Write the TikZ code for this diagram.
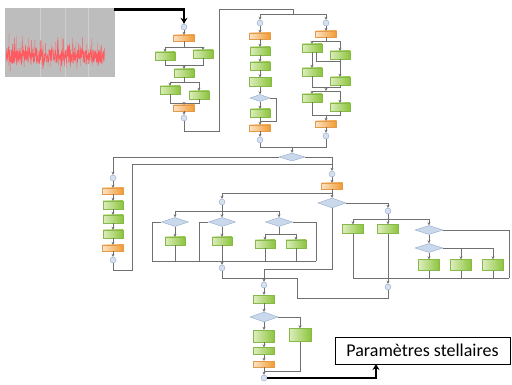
\documentclass[tikz,border=0pt]{standalone}
\usepackage{fontspec}
\setmainfont{Carlito}
\usetikzlibrary{shapes.geometric,arrows.meta,calc}
\definecolor{gl}{HTML}{DDEDBE}
\definecolor{gr}{HTML}{8CC43C}
\definecolor{gbd}{HTML}{86B84A}
\definecolor{ol}{HTML}{FBE3C6}
\definecolor{orr}{HTML}{F29A2E}
\definecolor{obd}{HTML}{E39A4A}
\definecolor{dfill}{HTML}{CAD8EC}
\definecolor{dbd}{HTML}{93A9CC}
\definecolor{cfill}{HTML}{D6E0EE}
\definecolor{lc}{HTML}{707070}
\definecolor{imgbg}{HTML}{BDBDBD}
\definecolor{sig}{HTML}{FF5A5F}
\begin{document}
\begin{tikzpicture}[x=1pt,y=-1pt,
  gbox/.style={rectangle, draw=gbd, line width=0.3pt, left color=gl, right color=gr, minimum width=20, minimum height=8, inner sep=0},
  obox/.style={rectangle, draw=obd, line width=0.3pt, left color=ol, right color=orr, minimum width=21, minimum height=6, inner sep=0},
  dia/.style={diamond, draw=dbd, line width=0.4pt, fill=dfill, minimum width=27, minimum height=9, inner sep=0},
  circ/.style={circle, draw=dbd, line width=0.4pt, fill=cfill, minimum size=6, inner sep=0},
  ln/.style={draw=lc, line width=0.85pt},
  ar/.style={ln, -{Stealth[length=3pt,width=3pt]}},
  thick arrow/.style={draw=black, line width=2.3pt, -{Stealth[length=6pt,width=7pt]}}]
\useasboundingbox (0,0) rectangle (512,385);

% ---- signal image ----
\node[fill=imgbg, minimum width=110, minimum height=69, inner sep=0] (img) at (60,42.5) {};
\foreach \gx in {40,65,88} \draw[white!25!imgbg, line width=0.5pt] (\gx,8) -- (\gx,77);
\pgfmathsetseed{11}
\draw[sig, line width=0.3pt, line join=round] plot[domain=6:105, samples=700, variable=\t]
  (\t, {57 + 7*rand - 18*pow(abs(rand),6) + 9*pow(abs(rand),8)});

\coordinate (ia) at (114,9.5);

% ---- column A ----
\node[circ] (a0) at (184,27) {};
\node[obox] (a1) at (184,38) {};
\node[gbox] (a2) at (165,56) {};
\node[gbox] (a3) at (203,54) {};
\node[gbox] (a4) at (184,73) {};
\node[gbox] (a5) at (170,90) {};
\node[gbox] (a6) at (199,95) {};
\node[obox] (a7) at (184,108) {};
\node[circ] (a8) at (184,118) {};
\coordinate (aS1) at (184,47); \coordinate (aM1) at (184,65);
\coordinate (aS2) at (184,82); \coordinate (aM2) at (184,103);
\draw[thick arrow] (ia) -| (a0);
\draw[ar] (a0) -- (a1);
\draw[ln] (a1) -- (aS1);
\draw[ar] (aS1) -| (a2); \draw[ar] (aS1) -| (a3);
\draw[ln] (a2) |- (aM1); \draw[ln] (a3) |- (aM1);
\draw[ar] (aM1) -- (a4);
\draw[ln] (a4) -- (aS2);
\draw[ar] (aS2) -| (a5); \draw[ar] (aS2) -| (a6);
\draw[ln] (a5) |- (aM2); \draw[ln] (a6) |- (aM2);
\draw[ar] (aM2) -- (a7);
\draw[ar] (a7) -- (a8);

% ---- link to B and C ----
\coordinate (t2) at (219,131); \coordinate (t3) at (219,9);
\coordinate (top) at (293,14); \coordinate (bL) at (260,14); \coordinate (bR) at (326,14);
\draw[ln] (a8) |- (t2) -- (t3) -| (top);
\draw[ln] (bL) -- (bR);

% ---- column B ----
\node[circ] (b0) at (260,23) {};
\node[obox] (b1) at (260,36) {};
\node[gbox] (b2) at (260,51) {};
\node[gbox] (b3) at (260,66) {};
\node[gbox, minimum width=22, minimum height=9] (b4) at (260,82) {};
\node[dia, minimum width=20, minimum height=7] (b5) at (260,98) {};
\node[gbox] (b6) at (260,113) {};
\node[obox] (b7) at (260,128) {};
\node[circ] (b8) at (260,140) {};
\coordinate (bj) at (260,121); \coordinate (bk) at (276,121);
\draw[ar] (bL) -- (b0);
\draw[ar] (b0) -- (b1); \draw[ar] (b1) -- (b2); \draw[ar] (b2) -- (b3);
\draw[ar] (b3) -- (b4); \draw[ar] (b4) -- (b5); \draw[ar] (b5) -- (b6);
\draw[ar] (b6) -- (b7); \draw[ar] (b7) -- (b8);
\draw[ln] (b5.east) -| (bk) -- (bj);

% ---- column C ----
\node[circ] (c0) at (326,23) {};
\node[obox] (c1) at (326,34) {};
\node[gbox] (c2) at (312,48) {};
\node[gbox] (c3) at (340,55) {};
\node[gbox] (c4) at (312,72) {};
\node[gbox] (c5) at (340,81) {};
\node[gbox] (c6) at (312,98) {};
\node[gbox] (c7) at (340,107) {};
\node[obox] (c8) at (326,124) {};
\node[circ] (c9) at (326,136) {};
\coordinate (cS1) at (326,41); \coordinate (cM1) at (326,87);
\coordinate (cS2) at (326,91); \coordinate (cM2) at (326,115);
\coordinate (cX) at (340,61);
\draw[ar] (bR) -- (c0);
\draw[ar] (c0) -- (c1);
\draw[ln] (c1) -- (cS1);
\draw[ar] (cS1) -| (c2); \draw[ar] (cS1) -| (c3);
\draw[ar] (c2) -- (c4); \draw[ar] (c3) -- (c5);
\draw[ln] ($(c2.south)+(4,0)$) |- (cX);
\draw[ln] (c4) |- (cM1); \draw[ln] (c5) |- (cM1);
\draw[ar] (cM1) -- (cS2);
\draw[ar] (cS2) -| (c6); \draw[ar] (cS2) -| (c7);
\draw[ln] (c6) |- (cM2); \draw[ln] (c7) |- (cM2);
\draw[ar] (cM2) -- (c8); \draw[ar] (c8) -- (c9);

% ---- main decision ----
\node[dia, minimum width=26, minimum height=8] (d0) at (292,157) {};
\coordinate (bm) at (292,147);
\draw[ln] (b8) |- (bm); \draw[ln] (c9) |- (bm);
\draw[ar] (bm) -- (d0);

% ---- left branch ----
\node[circ] (L0) at (113,178) {};
\node[obox] (L1) at (113,191) {};
\node[gbox] (L2) at (113,205) {};
\node[gbox] (L3) at (113,219) {};
\node[gbox] (L4) at (113,234) {};
\node[obox] (L5) at (113,248) {};
\node[circ] (L6) at (113,260) {};
\draw[ar] (d0.west) -| (L0);
\draw[ar] (L0) -- (L1); \draw[ar] (L1) -- (L2); \draw[ar] (L2) -- (L3);
\draw[ar] (L3) -- (L4); \draw[ar] (L4) -- (L5); \draw[ar] (L5) -- (L6);
\coordinate (Lb) at (132,270); \coordinate (Lt) at (132,164); \coordinate (Rj) at (332,164);
\draw[ln] (L6) |- (Lb) -- (Lt) -- (Rj);

% ---- right branch ----
\node[circ] (R0) at (332,174) {};
\node[obox] (R1) at (332,186) {};
\node[dia, minimum width=28, minimum height=10] (R2) at (332,203) {};
\coordinate (Rj2) at (332,193);
\draw[ar] (d0.east) -| (R0);
\draw[ar] (R0) -- (R1);
\draw[ln] (R1) -- (Rj2);
\draw[ar] (Rj2) -- (R2);

% ---- middle sub-branch ----
\node[circ] (M0) at (222,202) {};
\node[dia] (D1) at (175,222) {};
\node[dia] (D2) at (222,222) {};
\node[dia] (D3) at (279,222) {};
\node[gbox] (G1) at (175,241) {};
\node[gbox] (G2) at (222,241) {};
\node[gbox] (G3) at (265,244) {};
\node[gbox] (G4) at (296,244) {};
\node[circ] (M1) at (222,268) {};
\coordinate (Mj) at (222,211); \coordinate (D3j) at (279,234);
\coordinate (Mb1) at (152,261); \coordinate (Mb2) at (199,261);
\coordinate (Mb3) at (316,261); \coordinate (Mbc) at (222,261);
\draw[ar] (Rj2) -| (M0);
\draw[ln] (M0) -- (Mj);
\draw[ar] (Mj) -| (D1); \draw[ar] (Mj) -- (D2); \draw[ar] (Mj) -| (D3);
\draw[ln] (D1.west) -| (Mb1); \draw[ln] (D2.west) -| (Mb2); \draw[ln] (D3.east) -| (Mb3);
\draw[ar] (D1) -- (G1); \draw[ar] (D2) -- (G2);
\draw[ln] (D3) -- (D3j);
\draw[ar] (D3j) -| (G3); \draw[ar] (D3j) -| (G4);
\draw[ln] (Mb1) -- (Mb3);
\draw[ln] (G1) -- (G1 |- Mb1); \draw[ln] (G2) -- (Mbc);
\draw[ln] (G3) -- (G3 |- Mb1); \draw[ln] (G4) -- (G4 |- Mb1);
\draw[ar] (Mbc) -- (M1);

% ---- right sub-branch ----
\node[circ] (S0) at (388,211) {};
\node[gbox, minimum width=21, minimum height=9] (S1) at (353,229) {};
\node[gbox, minimum width=21, minimum height=9] (S2) at (388,229) {};
\node[dia, minimum width=28, minimum height=9] (S3) at (429,230) {};
\node[dia, minimum width=28, minimum height=9] (S4) at (429,248) {};
\node[gbox, minimum width=21, minimum height=11] (S5) at (429,265) {};
\node[gbox, minimum width=21, minimum height=11] (S6) at (461,265) {};
\node[gbox, minimum width=21, minimum height=11] (S7) at (493,265) {};
\node[circ] (S9) at (388,287) {};
\coordinate (Sj) at (388,219); \coordinate (S4j) at (461,248); \coordinate (S4k) at (493,248);
\coordinate (Sb1) at (353,278); \coordinate (Sb2) at (509,278);
\draw[ar] (R2.east) -| (S0);
\draw[ln] (S0) -- (Sj);
\draw[ar] (Sj) -| (S1); \draw[ar] (Sj) -- (S2); \draw[ar] (Sj) -| (S3);
\draw[ln] (S3.east) -| (Sb2);
\draw[ar] (S3) -- (S4); \draw[ar] (S4) -- (S5);
\draw[ln] (S4.east) -- (S4k);
\draw[ar] (S4j) -- (S6); \draw[ar] (S4k) -- (S7);
\draw[ln] (Sb1) -- (Sb2);
\draw[ln] (S1) -- (Sb1);
\draw[ln] (S5) -- (S5 |- Sb1); \draw[ln] (S6) -- (S6 |- Sb1); \draw[ln] (S7) -- (S7 |- Sb1);
\draw[ar] (S2) -- (S9);

% ---- merge to bottom column ----
\node[circ] (B0) at (264,285) {};
\coordinate (m2) at (297,278); \coordinate (m3) at (297,298);
\coordinate (m4) at (388,298); \coordinate (m5) at (264,269);
\draw[ln] (R2) |- (m5);
\draw[ln] (M1) |- (m2) -- (m3) -- (m4) -- (S9);
\draw[ar] (m5) -- (B0);

% ---- bottom column ----
\node[gbox, minimum width=21] (B1) at (264,299) {};
\node[dia, minimum width=28, minimum height=10] (B2) at (264,317) {};
\node[gbox, minimum width=22, minimum height=13] (B3) at (300,335) {};
\node[gbox, minimum width=21, minimum height=12] (B4) at (264,336) {};
\node[gbox, minimum width=21, minimum height=7] (B5) at (264,351) {};
\node[obox] (B6) at (264,364) {};
\node[circ] (B7) at (264,378) {};
\coordinate (Bj) at (264,371);
\draw[ar] (B0) -- (B1); \draw[ar] (B1) -- (B2); \draw[ar] (B2) -- (B4);
\draw[ar] (B4) -- (B5); \draw[ar] (B5) -- (B6); \draw[ar] (B6) -- (B7);
\draw[ar] (B2.east) -| (B3);
\draw[ln] (B3) |- (Bj);

% ---- result ----
\node[draw=black, line width=0.8pt, minimum width=175, minimum height=27, inner sep=0,
      font=\fontsize{18}{21}\selectfont] (P) at (422.5,350.5) {Paramètres stellaires};
\coordinate (pa) at (376,364);
\draw[thick arrow] (B7) -| (pa);
\end{tikzpicture}
\end{document}
